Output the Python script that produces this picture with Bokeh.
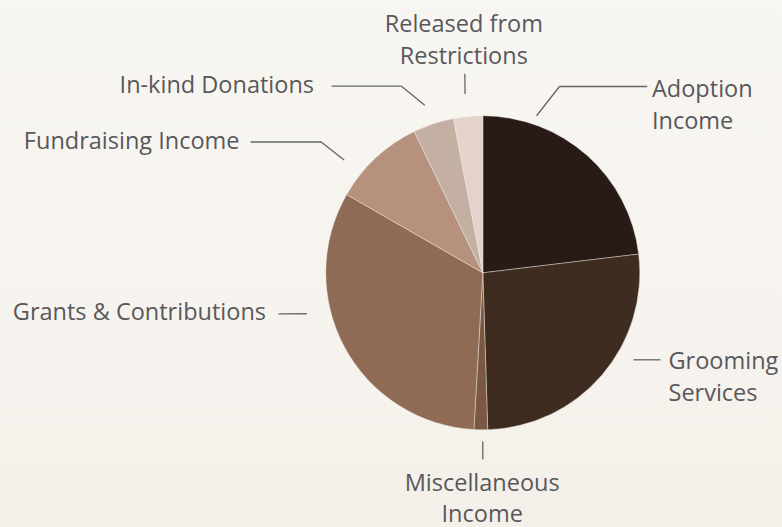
import math
from bokeh.plotting import figure
from bokeh.models import Range1d, ColumnDataSource
from bokeh.core.properties import value
from bokeh.embed import file_html
from bokeh.resources import INLINE

# ---------------- data ----------------
categories = [
    "Adoption Income",
    "Grooming Services",
    "Miscellaneous Income",
    "Grants & Contributions",
    "Fundraising Income",
    "In-kind Donations",
    "Released from Restrictions",
]
shares = [23.1, 26.4, 1.4, 32.4, 9.5, 4.2, 3.0]   # percent of income
label_lines = [
    ["Adoption", "Income"],
    ["Grooming", "Services"],
    ["Miscellaneous", "Income"],
    ["Grants & Contributions"],
    ["Fundraising Income"],
    ["In-kind Donations"],
    ["Released from", "Restrictions"],
]
colors = ["#281a16", "#3f2c21", "#7a5842", "#8f6b55", "#b6917d", "#c4b0a3", "#e3d3cb"]

# ---------------- layout (page pixels) ----------------
W, H = 782, 527
CX, CY = 482.3, 272.3
R = 157
FONT = "Open Sans"
FONT_SIZE = "23.5px"
TEXT_COLOR = "#58585a"
LINE_COLOR = "#666666"
BASE_SHIFT = 9.5   # renderer's alphabetic baseline sits lower than the measured one

# leader: start angle (deg clockwise from 12 o'clock), start radius, then
# further points in page pixels; text anchor (x, first baseline y), line step, align
layout = [
    dict(a=18.9, r=166, pts=[(559, 86), (646.7, 86)], tx=651.5, ty=96.7, lh=32.5, align="left"),
    dict(a=120.0, r=174, pts=[(660, 359.3)], tx=668, ty=368.5, lh=32.5, align="left"),
    dict(a=180.0, r=168.7, pts=[(482.3, 459)], tx=481.7, ty=491.0, lh=30.5, align="center"),
    dict(a=256.9, r=180.7, pts=[(278, 313.3)], tx=265.5, ty=320.3, lh=32.5, align="right"),
    dict(a=309.1, r=178.7, pts=[(320.7, 141.5), (250, 141.5)], tx=239, ty=149.3, lh=32.5, align="right"),
    dict(a=340.9, r=177.4, pts=[(401, 85.7), (331, 85.7)], tx=313.5, ty=93.3, lh=32.5, align="right"),
    dict(a=354.34, r=179.6, pts=[(464.3, 73.3)], tx=463.3, ty=31.7, lh=32.0, align="center"),
]


def to_data(X, Y):
    return X - CX, CY - Y


p = figure(
    width=W, height=H, output_backend="svg", toolbar_location=None,
    x_range=Range1d(-CX, W - CX), y_range=Range1d(CY - H, CY),
    min_border=0, outline_line_color=None,
    background_fill_alpha=0, border_fill_alpha=0,
)
p.axis.visible = False
p.grid.visible = False

# ---------------- pie ----------------
total = sum(shares)
starts, ends = [], []
acc = 0.0
for s in shares:
    a0 = math.pi / 2 - 2 * math.pi * acc / total
    acc += s
    a1 = math.pi / 2 - 2 * math.pi * acc / total
    starts.append(a0)
    ends.append(a1)

src = ColumnDataSource(dict(cat=categories, share=shares, start=starts, end=ends, color=colors))
p.wedge(x=0, y=0, radius=R, start_angle="start", end_angle="end", direction="clock",
        fill_color="color", line_color="#f3eee8", line_width=0.6, line_alpha=0.7, source=src)

# ---------------- leader lines and labels ----------------
xs, ys = [], []
tx, ty, tt, ta = [], [], [], []
for lines, lay in zip(label_lines, layout):
    ang = math.radians(lay["a"])
    px = [lay["r"] * math.sin(ang)]
    py = [lay["r"] * math.cos(ang)]
    for (X, Y) in lay["pts"]:
        dx, dy = to_data(X, Y)
        px.append(dx)
        py.append(dy)
    xs.append(px)
    ys.append(py)
    for i, line in enumerate(lines):
        dx, dy = to_data(lay["tx"], lay["ty"] - BASE_SHIFT + i * lay["lh"])
        tx.append(dx)
        ty.append(dy)
        tt.append(line)
        ta.append(lay["align"])

p.multi_line(xs=xs, ys=ys, line_color=LINE_COLOR, line_width=1.3)

for align in ("left", "center", "right"):
    idx = [i for i, a in enumerate(ta) if a == align]
    if not idx:
        continue
    p.text(x=[tx[i] for i in idx], y=[ty[i] for i in idx], text=[tt[i] for i in idx],
           text_font=value(FONT), text_font_size=value(FONT_SIZE), text_color=TEXT_COLOR,
           text_align=align, text_baseline="alphabetic")

html = file_html(p, INLINE, title="Income")
style = ("<style>html,body{margin:0;padding:0;min-height:100%;height:100%;overflow:hidden;"
         "background:linear-gradient(180deg,#f8f6f2 0%,#f6f3ee 70%,#f4efe8 100%);}</style>")
html = html.replace("</head>", style + "</head>", 1)
open("out.html", "w").write(html)
